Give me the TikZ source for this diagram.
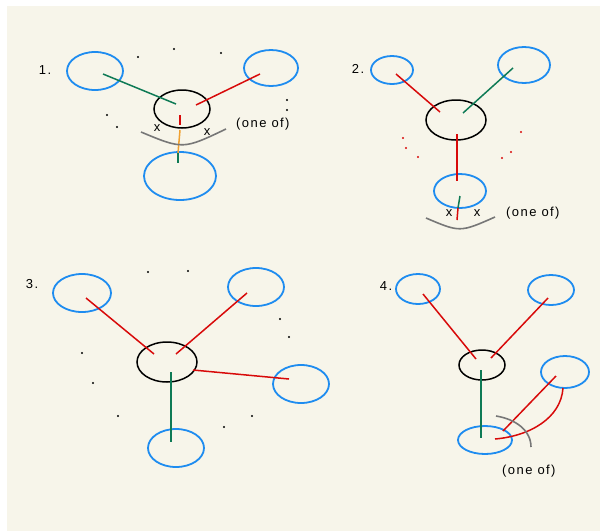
\documentclass[tikz,border=0pt]{standalone}
\usepackage{fontspec}
\setmainfont{Liberation Sans}[LetterSpace=11]
\usetikzlibrary{calc}
\definecolor{paper}{HTML}{F7F5EA}
\definecolor{ballblue}{HTML}{1E8CF0}
\definecolor{linkred}{HTML}{D80A0A}
\definecolor{linkgreen}{HTML}{0E7A55}
\definecolor{linkorange}{HTML}{F0A030}
\definecolor{arcgray}{HTML}{777777}
\tikzset{
%Define style for the circles
ball/.style={draw=ballblue, line width=1.8pt},
hub/.style={draw=black, line width=1.5pt},
%Define style for the links
redlink/.style={draw=linkred, line width=1.5pt},
greenlink/.style={draw=linkgreen, line width=1.5pt},
orangelink/.style={draw=linkorange, line width=1.5pt},
choice/.style={draw=arcgray, line width=1.6pt},
speck/.style={fill=black},
redspeck/.style={fill=linkred},
lbl/.style={font=\fontsize{13}{15}\selectfont, inner sep=0pt},
}

\begin{document}
\begin{tikzpicture}[x=1pt, y=-1pt]

    % page
    \useasboundingbox (0,0) rectangle (600,531);
    \fill[paper] (7,6) rectangle (600,531);

    % ---------- 1. ----------
    \node[lbl] (n1) at (45,70) {1.};
    \coordinate (a1) at (95,71);
    \coordinate (b1) at (271,68);
    \coordinate (h1) at (182,109);
    \coordinate (c1) at (180,176);
    \draw[ball] (a1) ellipse (28 and 19);
    \draw[ball] (b1) ellipse (27 and 18);
    \draw[hub] (h1) ellipse (28 and 19);
    \draw[ball] (c1) ellipse (36 and 24);

    % links
    \coordinate (a1e) at (103,74);  \coordinate (h1w) at (176,104);
    \coordinate (b1e) at (260,74);  \coordinate (h1e) at (196,105);
    \draw[greenlink] (a1e) -- (h1w);
    \draw[redlink] (b1e) -- (h1e);
    \coordinate (d1) at (180,115); \coordinate (d2) at (180,125);
    \coordinate (d3) at (180,130); \coordinate (d4) at (178,153);
    \coordinate (d5) at (178,163);
    \draw[redlink] (d1) -- (d2);
    \draw[orangelink] (d3) -- (d4);
    \draw[greenlink] (d4) -- (d5);

    % choice arc
    \coordinate (p1) at (141,132); \coordinate (q1) at (226,129);
    \draw[choice] (p1) .. controls (183,149.5) .. (q1);
    \node[lbl] (x1) at (157,128) {x};
    \node[lbl] (x2) at (207,132) {x};
    \node[lbl, anchor=west] (o1) at (236,124) {(one of)};

    % specks
    \foreach \p in {(138,57),(174,49),(221,53),(287,100),(287,110),(107,115),(117,127)}
      \fill[speck] \p circle (1.1);

    % ---------- 2. ----------
    \node[lbl] (n2) at (358,69) {2.};
    \coordinate (a2) at (392,70);
    \coordinate (b2) at (524,65);
    \coordinate (h2) at (456,120);
    \coordinate (c2) at (460,191);
    \draw[ball] (a2) ellipse (21 and 14);
    \draw[ball] (b2) ellipse (26 and 18);
    \draw[hub] (h2) ellipse (30 and 20);
    \draw[ball] (c2) ellipse (26 and 17);

    % links
    \coordinate (a2e) at (396,74);  \coordinate (h2w) at (440,112);
    \coordinate (b2e) at (513,68);  \coordinate (h2e) at (463,113);
    \draw[redlink] (a2e) -- (h2w);
    \draw[greenlink] (b2e) -- (h2e);
    \coordinate (e1) at (457,134); \coordinate (e2) at (457,181);
    \draw[redlink] (e1) -- (e2);
    \coordinate (e3) at (460,196); \coordinate (e4) at (458,208);
    \coordinate (e5) at (457,220);
    \draw[greenlink] (e3) -- (e4);
    \draw[redlink] (e4) -- (e5);

    % choice arc
    \coordinate (p2) at (426,218); \coordinate (q2) at (495,217);
    \draw[choice] (p2) .. controls (460,232.5) .. (q2);
    \node[lbl] (x3) at (449,213) {x};
    \node[lbl] (x4) at (477,213) {x};
    \node[lbl, anchor=west] (o2) at (506,213) {(one of)};

    % specks
    \foreach \p in {(403,138),(406,148),(418,157),(521,132),(511,152),(502,158)}
      \fill[redspeck] \p circle (1.1);

    % ---------- 3. ----------
    \node[lbl] (n3) at (32,284) {3.};
    \coordinate (a3) at (82,293);
    \coordinate (b3) at (256,287);
    \coordinate (h3) at (167,362);
    \coordinate (r3) at (301,384);
    \coordinate (c3) at (176,448);
    \draw[ball] (a3) ellipse (29 and 19);
    \draw[ball] (b3) ellipse (28 and 19);
    \draw[hub] (h3) ellipse (30 and 20);
    \draw[ball] (r3) ellipse (28 and 19);
    \draw[ball] (c3) ellipse (28 and 19);

    % links
    \coordinate (a3e) at (86,298);  \coordinate (h3w) at (154,354);
    \coordinate (b3e) at (247,293); \coordinate (h3e) at (176,354);
    \coordinate (h3s) at (193,370); \coordinate (r3e) at (289,379);
    \draw[redlink] (a3e) -- (h3w);
    \draw[redlink] (b3e) -- (h3e);
    \draw[redlink] (h3s) -- (r3e);
    \coordinate (f1) at (171,372); \coordinate (f2) at (171,442);
    \draw[greenlink, line width=2pt] (f1) -- (f2);

    % specks
    \foreach \p in {(148,272),(188,271),(280,319),(289,337),(82,353),(93,383),(118,416),(224,427),(252,416)}
      \fill[speck] \p circle (1.1);

    % ---------- 4. ----------
    \node[lbl] (n4) at (386,286) {4.};
    \coordinate (a4) at (418,289);
    \coordinate (b4) at (551,290);
    \coordinate (h4) at (482,365);
    \coordinate (r4) at (565,372);
    \coordinate (c4) at (485,440);
    \draw[ball] (a4) ellipse (22 and 15);
    \draw[ball] (b4) ellipse (23 and 15);
    \draw[hub] (h4) ellipse (23 and 15);
    \draw[ball] (r4) ellipse (24 and 16);
    \draw[ball] (c4) ellipse (27 and 14);

    % links
    \coordinate (a4e) at (423,294); \coordinate (h4w) at (476,359);
    \coordinate (b4e) at (548,298); \coordinate (h4e) at (491,358);
    \draw[redlink] (a4e) -- (h4w);
    \draw[redlink] (b4e) -- (h4e);
    \coordinate (g1) at (481,370); \coordinate (g2) at (481,438);
    \draw[greenlink] (g1) -- (g2);
    \coordinate (r4a) at (556,376); \coordinate (c4a) at (503,431);
    \coordinate (r4b) at (563,388); \coordinate (c4b) at (495,439);
    \draw[redlink] (r4a) -- (c4a);
    \draw[redlink] (r4b) .. controls (561,418) and (530,436) .. (c4b);

    % choice arc
    \coordinate (p4) at (496,416); \coordinate (q4) at (531,447);
    \draw[choice] (p4) .. controls (515,419) and (531,430) .. (q4);
    \node[lbl, anchor=west] (o4) at (502,471) {(one of)};

\end{tikzpicture}
\end{document}
